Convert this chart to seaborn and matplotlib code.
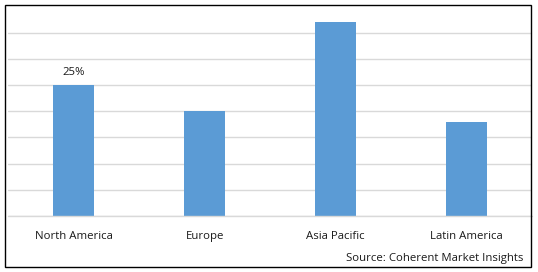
import matplotlib
matplotlib.use("Agg")
import matplotlib.pyplot as plt
import seaborn as sns
import pandas as pd
from matplotlib.patches import Rectangle

regions = ["North America", "Europe", "Asia Pacific", "Latin America"]
shares = [25, 20, 37, 18]
label_text = ["25%", "", "", ""]
source = "Source: Coherent Market Insights"

sns.set_style("white")
plt.rcParams['font.family'] = ['Open Sans', 'DejaVu Sans']

W, H = 538, 272
fs = 8.2
fig = plt.figure(figsize=(W / 100, H / 100), dpi=100)
ax = fig.add_axes([8.2 / W, 56 / H, 524 / W, (216 - 6.4) / H])

df = pd.DataFrame({"region": regions, "share": shares})
sns.barplot(data=df, x="region", y="share", color="#5B9BD5", width=0.31,
            saturation=1, linewidth=0, ax=ax, zorder=3)

ax.set_ylim(0, 40)
ax.set_yticks([0, 5, 10, 15, 20, 25, 30, 35])
ax.yaxis.grid(True, color="#D9D9D9", linewidth=1.0, zorder=0)
ax.axhline(0, color="#D9D9D9", linewidth=1.0, zorder=4, clip_on=False)
ax.set_axisbelow(True)
ax.tick_params(axis="y", left=False, labelleft=False)
ax.tick_params(axis="x", bottom=False, labelsize=fs, pad=7, colors="#1a1a1a")
ax.set_xlabel("")
ax.set_ylabel("")
for s in ax.spines.values():
    s.set_visible(False)

for i, (v, t) in enumerate(zip(shares, label_text)):
    if t:
        ax.annotate(t, (i, v), xytext=(0, 5), textcoords="offset points",
                    ha="center", va="bottom", fontsize=fs, color="#1a1a1a")

fig.text(523 / W, 1 - 258 / H, source, ha="right", va="center",
         fontsize=fs, color="#1a1a1a")

fig.patches.append(Rectangle((5 / W, 5 / H), (531 - 5) / W, (267 - 5) / H,
                             transform=fig.transFigure, fill=False,
                             edgecolor="black", linewidth=1.0))

fig.savefig("out.png", dpi=100)
